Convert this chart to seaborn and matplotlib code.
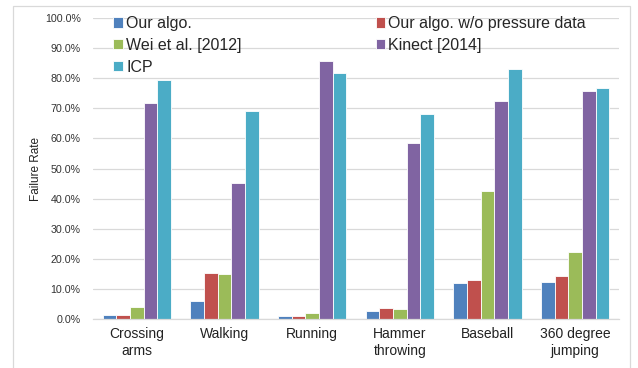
import matplotlib
matplotlib.use("Agg")
import matplotlib.pyplot as plt
import seaborn as sns
import pandas as pd
from matplotlib.ticker import FuncFormatter
from matplotlib.patches import Rectangle

categories = ["Crossing\narms", "Walking", "Running", "Hammer\nthrowing", "Baseball", "360 degree\njumping"]
series_names = ["Our algo.", "Our algo. w/o pressure data", "Wei et al. [2012]", "Kinect [2014]", "ICP"]
our_algo = [1.5, 6.0, 0.9, 2.7, 12.1, 12.3]
our_no_pressure = [1.5, 15.3, 1.1, 3.7, 13.1, 14.3]
wei = [4.0, 15.0, 2.0, 3.2, 42.7, 22.3]
kinect = [71.7, 45.3, 85.7, 58.5, 72.3, 75.9]
icp = [79.3, 69.0, 81.7, 68.2, 83.0, 76.7]
colors = ["#4F81BD", "#C0504D", "#9BBB59", "#8064A2", "#4BACC6"]

rows = []
for name, vals in zip(series_names, [our_algo, our_no_pressure, wei, kinect, icp]):
    for c, v in zip(categories, vals):
        rows.append({"Activity": c, "Series": name, "Rate": v})
df = pd.DataFrame(rows)

sns.set_theme(style="white")
plt.rcParams['font.family'] = ['Liberation Sans', 'DejaVu Sans']

fig = plt.figure(figsize=(6.38, 3.68), dpi=100)
ax = fig.add_axes([0.146, 0.133, 0.824, 0.818])

sns.barplot(data=df, x="Activity", y="Rate", hue="Series", order=categories,
            hue_order=series_names, palette=colors, width=0.78, gap=0,
            saturation=1, edgecolor="white", linewidth=0.6, ax=ax, legend=True)

ax.set_ylim(0, 100)
ax.set_yticks(range(0, 101, 10))
ax.yaxis.set_major_formatter(FuncFormatter(lambda v, p: f"{v:.1f}%"))
ax.grid(axis="y", color="#D9D9D9", linewidth=0.9)
ax.set_axisbelow(True)
for s in ["top", "right", "left"]:
    ax.spines[s].set_visible(False)
ax.spines["bottom"].set_color("#D9D9D9")
ax.spines["bottom"].set_linewidth(0.9)
ax.tick_params(axis="both", length=0)
ax.tick_params(axis="y", labelsize=7.7, pad=9, colors="#333333")
ax.tick_params(axis="x", labelsize=10, pad=6, colors="#222222")
ax.set_xlabel("")
ax.set_ylabel("Failure Rate", fontsize=8.5, labelpad=2, color="#222222")
ax.set_xlim(-0.5, 5.5)

handles, labels = ax.get_legend_handles_labels()
order = [0, 2, 4, 1, 3]
ax.legend([handles[i] for i in order], [labels[i] for i in order],
          ncol=2, loc="upper left", bbox_to_anchor=(0.02, 1.038), frameon=False,
          fontsize=11.5, handlelength=0.6, handleheight=0.6, handletextpad=0.2,
          columnspacing=8.4, labelspacing=0.42, borderaxespad=0.2)

fig.patches.append(Rectangle((13/638, -0.1), (630-13)/638, 1.1 - 6/368,
                             transform=fig.transFigure, fill=False,
                             edgecolor="#D9D9D9", linewidth=0.9))

fig.savefig("out.png", dpi=100)
